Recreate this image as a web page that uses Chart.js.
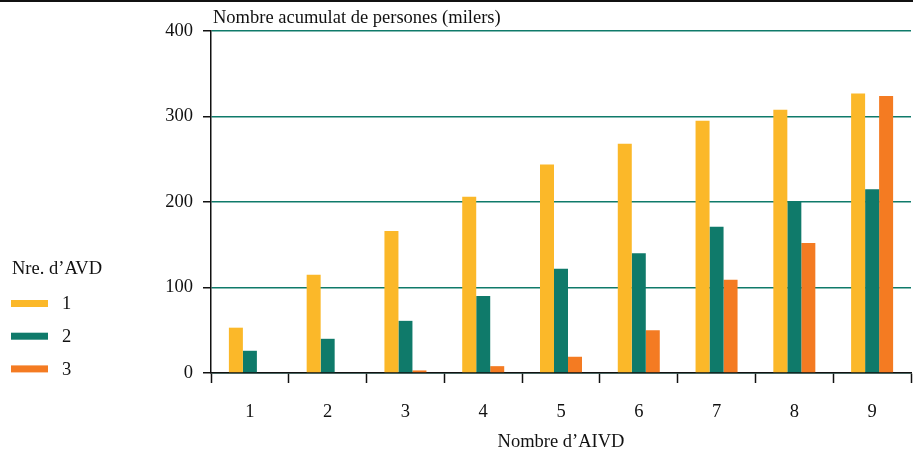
<!DOCTYPE html>
<html>
<head>
<meta charset="utf-8">
<script src="https://cdn.jsdelivr.net/npm/chart.js@4.4.1/dist/chart.umd.min.js"></script>
<style>
    body { margin: 0; background: #fff; }
    #wrap { width: 913px; height: 453px; position: relative; }
</style>
</head>
<body>
<div id="wrap"><canvas id="chart"></canvas></div>
<script>
// dades del gràfic
const categories = ['1', '2', '3', '4', '5', '6', '7', '8', '9'];
const seriesLabels = ['1', '2', '3'];
const avd1 = [53, 115, 166, 206, 244, 268, 295, 308, 327];
const avd2 = [26, 40, 61, 90, 122, 140, 171, 201, 215];
const avd3 = [0, 0, 3, 8, 19, 50, 109, 152, 324];
const yTicks = [0, 100, 200, 300, 400];

const yTitle = 'Nombre acumulat de persones (milers)';
const xTitle = 'Nombre d\u2019AIVD';
const legendTitle = 'Nre. d\u2019AVD';

const colors = ['#fbb829', '#0f7a6a', '#f47b22'];
const FONT = '"Liberation Serif", "Times New Roman", serif';
const FONT_SIZE = 18.5;

/* text, llegenda i línia superior */
const extras = {
    id: 'extras',
    afterDraw(chart) {
        const ctx = chart.ctx;
        const area = chart.chartArea;
        ctx.save();
        ctx.fillStyle = '#111';
        ctx.fillRect(0, 0, chart.width, 2);

        ctx.font = FONT_SIZE + 'px ' + FONT;
        ctx.textBaseline = 'alphabetic';
        ctx.textAlign = 'left';
        ctx.fillText(yTitle, area.left + 2, 23);

        ctx.textBaseline = 'middle';
        ctx.fillText(legendTitle, 12, 269);
        chart.data.datasets.forEach((ds, i) => {
            const y = 303.5 + i * 32.7;
            ctx.fillStyle = ds.backgroundColor;
            ctx.fillRect(11, y - 3.5, 37, 7);
            ctx.fillStyle = '#111';
            ctx.fillText(ds.label, 62, y + 1);
        });
        ctx.restore();
    }
};

const ctx = document.getElementById('chart');
new Chart(ctx.getContext('2d'), {
    type: 'bar',
    data: {
        labels: categories,
        datasets: [avd1, avd2, avd3].map((vals, i) => ({
            label: seriesLabels[i],
            data: vals,
            backgroundColor: colors[i],
            borderWidth: 0
        }))
    },
    options: {
        responsive: true,
        maintainAspectRatio: false,
        animation: false,
        layout: { padding: { top: 31, left: 0, right: 2, bottom: 0 } },
        datasets: {
            bar: { categoryPercentage: 0.54, barPercentage: 1 }
        },
        scales: {
            x: {
                offset: true,
                grid: {
                    offset: true,
                    drawOnChartArea: false,
                    drawTicks: true,
                    tickLength: 10,
                    tickColor: '#111',
                    tickWidth: 1.5
                },
                border: { color: '#111', width: 1.5 },
                ticks: {
                    color: '#111',
                    padding: 18,
                    font: { family: FONT, size: FONT_SIZE }
                },
                title: {
                    display: true,
                    text: xTitle,
                    color: '#111',
                    padding: { top: 4, bottom: 0 },
                    font: { family: FONT, size: FONT_SIZE }
                },
                afterFit(scale) { scale.height = 80; }
            },
            y: {
                min: 0,
                max: 400,
                afterBuildTicks(scale) {
                    scale.ticks = yTicks.map(v => ({ value: v }));
                },
                grid: {
                    color: '#0f7a6a',
                    lineWidth: 1.5,
                    drawTicks: true,
                    tickLength: 8,
                    tickColor: '#111',
                    tickWidth: 1.5
                },
                border: { color: '#111', width: 1.5 },
                ticks: {
                    color: '#111',
                    padding: 10,
                    font: { family: FONT, size: FONT_SIZE }
                },
                afterFit(scale) { scale.width = 211; }
            }
        },
        plugins: {
            legend: { display: false },
            tooltip: { enabled: false }
        }
    },
    plugins: [extras]
});
</script>
</body>
</html>
